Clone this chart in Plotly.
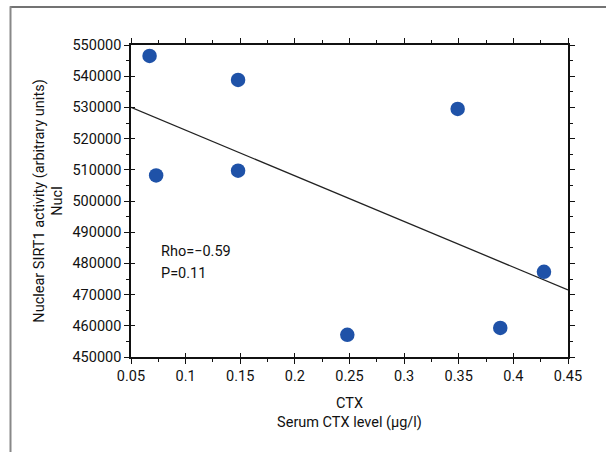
import plotly.graph_objects as go

# Data
ctx = [0.067, 0.073, 0.148, 0.148, 0.248, 0.349, 0.388, 0.428]
sirt1 = [546500, 508200, 538800, 509700, 457100, 529500, 459300, 477300]
fit_x = [0.05, 0.45]
fit_y = [530000, 471500]
x_ticks = [0.05, 0.1, 0.15, 0.2, 0.25, 0.3, 0.35, 0.4, 0.45]
x_tick_labels = ["0.05", "0.1", "0.15", "0.2", "0.25", "0.3", "0.35", "0.4", "0.45"]
y_ticks = [450000, 460000, 470000, 480000, 490000, 500000, 510000, 520000, 530000, 540000, 550000]
y_tick_labels = [str(v) for v in y_ticks]
stats_lines = ["Rho=−0.59", "P=0.11"]

FONT = "Roboto, 'DejaVu Sans Condensed', sans-serif"
TXT = "#111111"
BLUE = "#1f52a8"
FS = 14.5

fig = go.Figure()
fig.add_trace(go.Scatter(x=fit_x, y=fit_y, mode="lines",
                         line=dict(color="#222222", width=1.3),
                         showlegend=False, hoverinfo="skip"))
fig.add_trace(go.Scatter(x=ctx, y=sirt1, mode="markers",
                         marker=dict(color=BLUE, size=14.5, symbol="circle",
                                     line=dict(width=0)),
                         showlegend=False))
# invisible trace for overlay axes (crossing ticks)
fig.add_trace(go.Scatter(x=fit_x, y=fit_y, xaxis="x2", yaxis="y2", mode="lines",
                         line=dict(width=0), opacity=0, showlegend=False,
                         hoverinfo="skip"))

axis_common = dict(showgrid=False, zeroline=False, showline=True,
                   linecolor="#111111", linewidth=1.5,
                   tickcolor="#111111", tickwidth=1.3)

fig.update_layout(
    width=606, height=452,
    margin=dict(l=131, r=38, t=45, b=95),
    paper_bgcolor="white", plot_bgcolor="white",
    font=dict(family=FONT, size=FS, color=TXT),
    xaxis=dict(range=[0.05, 0.45], tickmode="array", tickvals=x_ticks,
               ticktext=x_tick_labels, ticks="outside", ticklen=5,
               mirror="ticks",
               minor=dict(dtick=0.025, tick0=0.025, ticks="outside", ticklen=3,
                          tickcolor="#111111", tickwidth=1.2),
               title=dict(text="CTX<br>Serum CTX level (μg/l)", standoff=14,
                          font=dict(family=FONT, size=FS, color=TXT)),
               tickfont=dict(family=FONT, size=FS, color=TXT),
               **axis_common),
    yaxis=dict(range=[450000, 550000], tickmode="array", tickvals=y_ticks,
               ticktext=y_tick_labels, ticks="outside", ticklen=5,
               mirror="ticks",
               minor=dict(dtick=5000, tick0=0, ticks="outside", ticklen=3,
                          tickcolor="#111111", tickwidth=1.2),
               title=dict(text="Nuclear SIRT1 activity (arbitrary units)<br>Nucl",
                          standoff=6,
                          font=dict(family=FONT, size=FS, color=TXT)),
               tickfont=dict(family=FONT, size=FS, color=TXT),
               **axis_common),
    xaxis2=dict(range=[0.05, 0.45], overlaying="x", anchor="y2", side="bottom",
                tickmode="array", tickvals=x_ticks, ticks="inside", ticklen=4,
                showticklabels=False, showgrid=False, zeroline=False,
                showline=False, tickcolor="#111111", tickwidth=1.3),
    yaxis2=dict(range=[450000, 550000], overlaying="y", anchor="x2", side="left",
                tickmode="array", tickvals=y_ticks, ticks="inside", ticklen=4,
                showticklabels=False, showgrid=False, zeroline=False,
                showline=False, tickcolor="#111111", tickwidth=1.3),
    annotations=[
        dict(x=0.076, y=483700, xref="x", yref="y", xanchor="left",
             yanchor="middle", align="left", showarrow=False,
             text=stats_lines[0], font=dict(family=FONT, size=FS, color=TXT)),
        dict(x=0.076, y=476900, xref="x", yref="y", xanchor="left",
             yanchor="middle", align="left", showarrow=False,
             text=stats_lines[1], font=dict(family=FONT, size=FS, color=TXT)),
    ],
)

# outer frame lines (top and left)
W, H = 606, 452
pl, pr, pt, pb = 131, 38, 45, 95
pw, ph = W - pl - pr, H - pt - pb
def px_to_paper_x(px):
    return (px - pl) / pw
def px_to_paper_y(py):
    return (H - pb - py) / ph
fig.layout.shapes = [
    dict(type="line", xref="paper", yref="paper",
         x0=px_to_paper_x(10), x1=px_to_paper_x(606),
         y0=px_to_paper_y(7), y1=px_to_paper_y(7),
         line=dict(color="#444444", width=1.5)),
    dict(type="line", xref="paper", yref="paper",
         x0=px_to_paper_x(10.5), x1=px_to_paper_x(10.5),
         y0=px_to_paper_y(6.3), y1=px_to_paper_y(452),
         line=dict(color="#888888", width=2)),
]

fig.write_html("out.html")
